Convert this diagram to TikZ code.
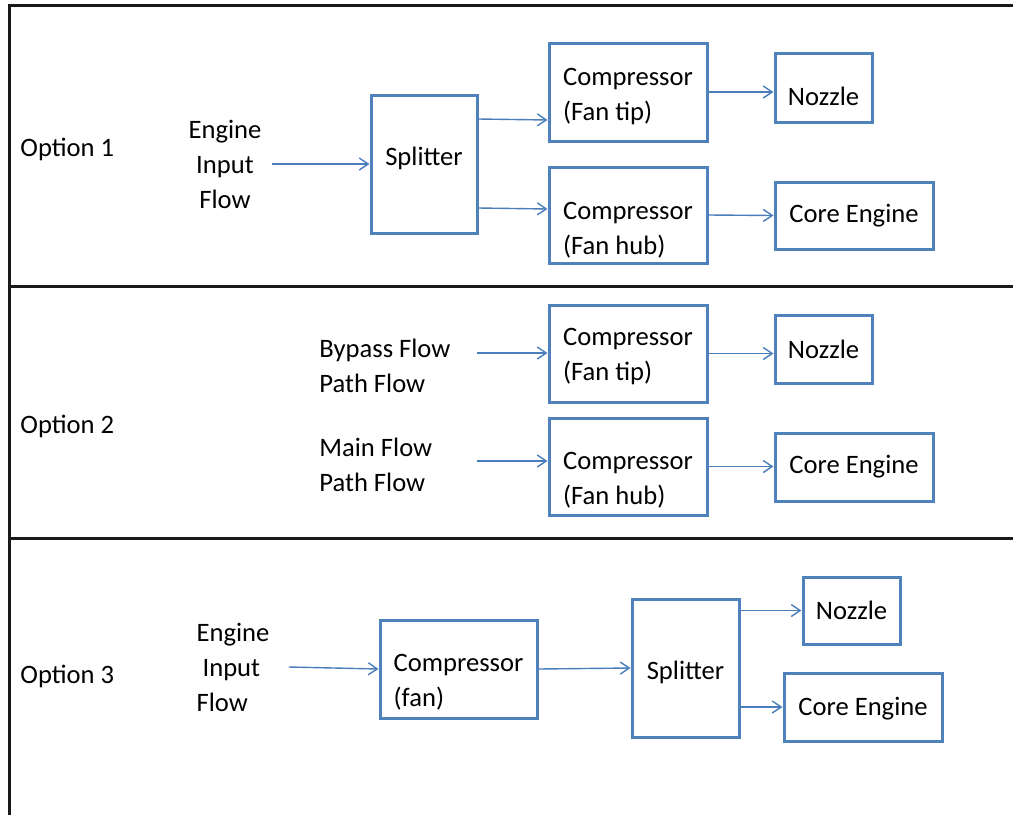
\documentclass[tikz,border=0pt]{standalone}
\usepackage{fontspec}
\setmainfont{Carlito}
\usepackage{tikz}
\usetikzlibrary{arrows.meta}
\definecolor{boxblue}{RGB}{79,129,189}
\definecolor{lineblue}{RGB}{74,126,187}
\tikzset{
  box/.style={draw=boxblue, line width=1.5pt, inner sep=0pt, font=\fontsize{13.3pt}{17.5pt}\selectfont},
  txt/.style={inner sep=0pt, font=\fontsize{13.3pt}{17.5pt}\selectfont},
  flow/.style={lineblue, line width=0.7pt, -{Straight Barb[length=4.5pt,width=6pt]}},
  frame/.style={line width=1.5pt, black!90}
}
\begin{document}
\begin{tikzpicture}[x=0.5pt,y=-0.5pt]
\useasboundingbox (0,0) rectangle (1013,815);
\draw[frame] (1013,5) -- (9,5) -- (9,815);
\draw[frame] (9,286) -- (1013,286);
\draw[frame] (9,538) -- (1013,538);

\node[txt, anchor=west] (opt1) at (20,149) {Option 1};
\node[txt, align=center] (in1) at (225,164) {Engine\\Input\\Flow};
\node[box, minimum width=53pt, minimum height=69pt, text depth=7.8pt] (split1) at (424,164) {Splitter};
\node[box, minimum width=79pt, minimum height=49pt, align=left, text height=31pt] (tip1) at (628,92) {Compressor\\(Fan tip)};
\node[box, minimum width=79pt, minimum height=48pt, align=left, text height=41.5pt] (hub1) at (628,215) {Compressor\\(Fan hub)};
\node[box, minimum width=48.5pt, minimum height=34.5pt, text height=18pt] (noz1) at (823.5,87.5) {Nozzle};
\node[box, minimum width=79pt, minimum height=33.5pt] (core1) at (854,215.5) {Core Engine};

\node[txt, anchor=west] (opt2) at (20,426) {Option 2};
\node[txt, anchor=west, align=left] (byp2) at (319,366) {Bypass Flow\\Path Flow};
\node[txt, anchor=west, align=left] (main2) at (319,465) {Main Flow\\Path Flow};
\coordinate (byp2in) at (477,353);
\coordinate (main2in) at (477,461);
\node[box, minimum width=79pt, minimum height=48.5pt, align=left, text height=29pt] (tip2) at (628,353.5) {Compressor\\(Fan tip)};
\node[box, minimum width=79pt, minimum height=48.5pt, align=left, text height=40pt] (hub2) at (628,466.5) {Compressor\\(Fan hub)};
\node[box, minimum width=48.5pt, minimum height=34pt] (noz2) at (823.5,349) {Nozzle};
\node[box, minimum width=79pt, minimum height=34pt] (core2) at (854,467) {Core Engine};

\node[txt, anchor=west] (opt3) at (20,676) {Option 3};
\node[txt, align=left] (in3) at (233,667) {Engine\\\hspace*{3pt}Input\\Flow};
\node[box, minimum width=78.5pt, minimum height=49pt, align=left, text height=39pt] (fan3) at (458.5,669) {Compressor\\(fan)};
\node[box, minimum width=53.5pt, minimum height=69pt, text height=13.2pt] (split3) at (685.5,668) {Splitter};
\node[box, minimum width=48.5pt, minimum height=33.5pt] (noz3) at (851.5,610.5) {Nozzle};
\node[box, minimum width=79pt, minimum height=34pt, text height=11pt] (core3) at (863,707) {Core Engine};

\path[flow]
([xshift=5pt]in1.east) edge (split1.west)
([yshift=22.5pt]split1.east) edge ([yshift=-14pt]tip1.west)
([yshift=-22pt]split1.east) edge ([yshift=3pt]hub1.west)
(tip1.east) edge (tip1.east -| noz1.west)
(hub1.east) edge (core1.west)
(byp2in) edge (byp2in -| tip2.west)
(main2in) edge (main2in -| hub2.west)
(tip2.east) edge (tip2.east -| noz2.west)
(hub2.east) edge (hub2.east -| core2.west)
([xshift=9.5pt]in3.east) edge (fan3.west)
(fan3.east) edge (split3.west)
(split3.east |- noz3.west) edge (noz3.west)
(split3.east |- core3.west) edge (core3.west)
;
\end{tikzpicture}
\end{document}
